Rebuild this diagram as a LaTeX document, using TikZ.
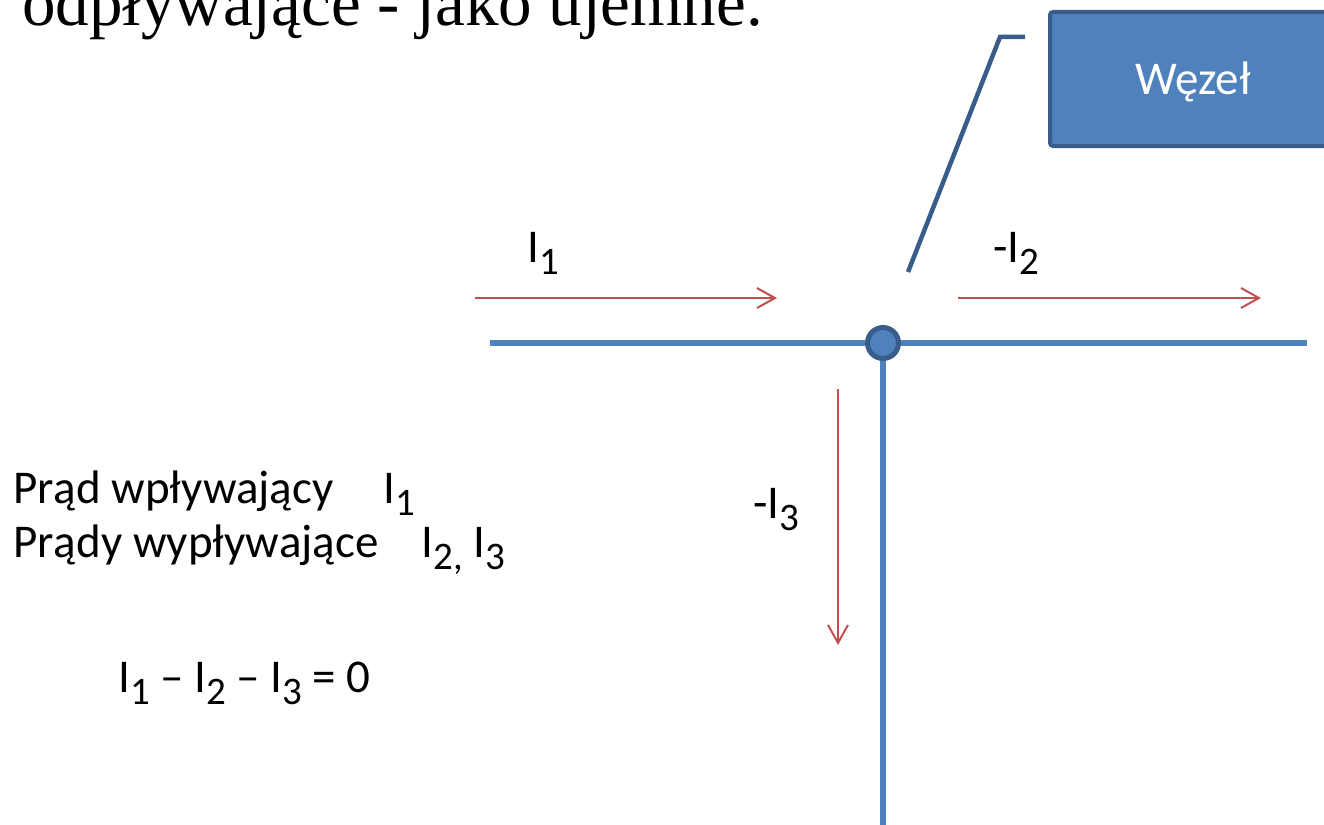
\documentclass[tikz,border=0pt]{standalone}
\usepackage{fontspec}
\setmainfont{Carlito}
\newfontfamily\timesfont{Liberation Serif}
\usetikzlibrary{arrows.meta}
\definecolor{cwire}{HTML}{4F81BD}
\definecolor{cdark}{HTML}{385D8A}
\definecolor{cflow}{HTML}{C0504D}
\newcommand{\idx}[1]{\raisebox{-12pt}{\fontsize{39}{39}\selectfont #1}}
\tikzset{
  wire/.style={draw=cwire, line width=6pt},
  flow/.style={draw=cflow, line width=2pt, -{Straight Barb[length=18pt, width=20pt, line width=2pt]}},
  lbl/.style={anchor=base west, inner sep=0pt, font=\fontsize{47}{54}\selectfont},
  junction/.style={circle, draw=cdark, fill=cwire, line width=5pt, minimum size=31pt, inner sep=0pt},
  callout/.style={draw=cdark, fill=cwire, line width=4pt, rounded corners=3pt, minimum width=286pt, minimum height=134pt, text height=31pt, text depth=0pt, inner sep=0pt, text=white, font=\fontsize{47}{54}\selectfont},
  leader/.style={draw=cdark, line width=4.5pt},
}
\begin{document}
\begin{tikzpicture}[x=1pt, y=-1pt]
\useasboundingbox (0,0) rectangle (1324,824);
\clip (0,0) rectangle (1324,824);
% heading, cut by the top edge
\node[anchor=base west, inner sep=0pt, font=\timesfont\fontsize{67}{67}\selectfont] (uwaga) at (22,26) {odpływające - jako ujemne.};
% wires and junction
\node[junction] (junc) at (883,343) {};
\coordinate (wl) at (490,343);
\coordinate (wr) at (1307,343);
\coordinate (wb) at (883,830);
\draw[wire] (wl) -- (junc); \draw[wire] (junc) -- (wr); \draw[wire] (junc) -- (wb);
% callout
\node[callout] (wezel) at (1193,79) {Węzeł};
\coordinate (leadtip) at (908,272);
\coordinate (leadknee) at (1000,37);
\coordinate (leadend) at (1025,37);
\draw[leader] (leadtip) -- (leadknee) -- (leadend);
% currents
\coordinate (a1) at (475,298); \coordinate (b1) at (777,298);
\coordinate (a2) at (958,298); \coordinate (b2) at (1261,298);
\coordinate (a3) at (838,389); \coordinate (b3) at (838,645);
\draw[flow] (a1) -- (b1); \draw[flow] (a2) -- (b2); \draw[flow] (a3) -- (b3);
\node[lbl] (l1) at (527,262) {I\idx{1}};
\node[lbl] (l2) at (993,262) {-I\idx{2}};
\node[lbl] (l3) at (753,518) {-I\idx{3}};
% description
\node[lbl] (opis1) at (13,503) {Prąd wpływający\hspace{50pt}I\idx{1}};
\node[lbl] (opis2) at (13,557) {Prądy wypływające\hspace{43pt}I\idx{2,} I\idx{3}};
\node[lbl] (rown) at (118,692) {I\idx{1} – I\idx{2} – I\idx{3} = 0};
\end{tikzpicture}
\end{document}
